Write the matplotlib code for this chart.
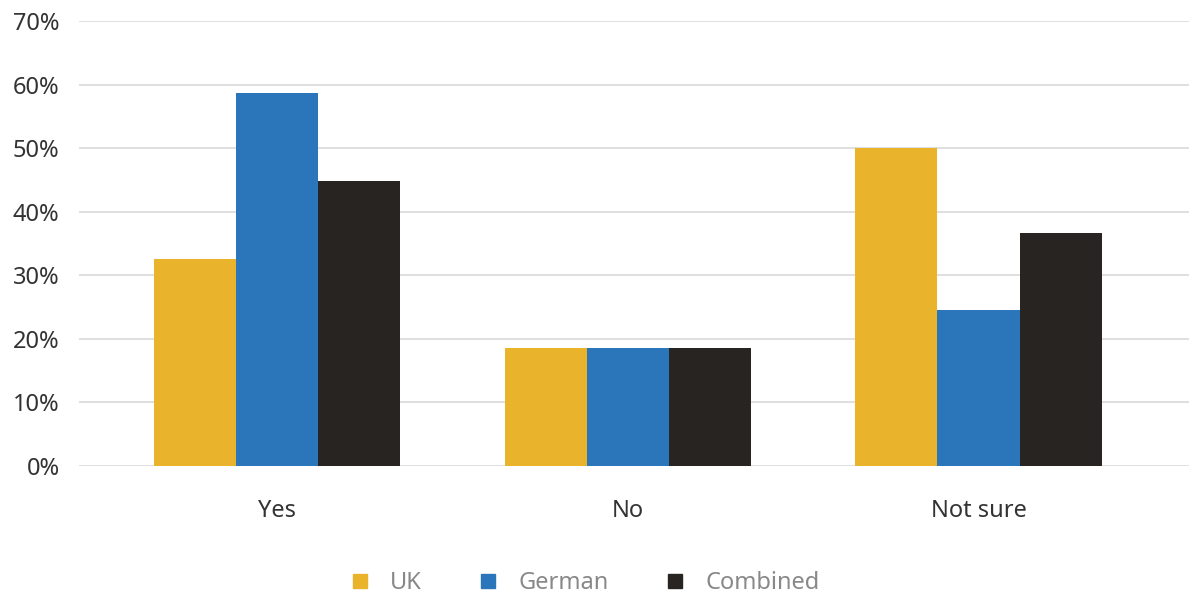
import numpy as np
import matplotlib.pyplot as plt
from matplotlib.lines import Line2D

plt.rcParams['font.family'] = ['Noto Sans', 'DejaVu Sans']

categories = ['Yes', 'No', 'Not sure']
series = ['UK', 'German', 'Combined']
uk = [32.5, 18.6, 50.1]
german = [58.6, 18.6, 24.6]
combined = [44.9, 18.6, 36.7]
colors = ['#E9B42C', '#2B76BA', '#282421']

fig = plt.figure(figsize=(11.89, 5.94), dpi=100)
ax = fig.add_axes([79 / 1189, 128 / 594, 1110 / 1189, 445 / 594])

x = np.arange(len(categories))
w = 0.234
for i, (vals, c) in enumerate(zip([uk, german, combined], colors)):
    ax.bar(x + (i - 1) * w, np.array(vals) / 100, width=w, color=c, zorder=3, label=series[i])

ax.set_xlim(-0.564, 2.60)
ax.set_ylim(0, 0.70)
ax.set_yticks(np.arange(0, 0.71, 0.1))
ax.set_yticklabels([f'{int(round(v * 100))}%' for v in np.arange(0, 0.71, 0.1)])
ax.set_xticks(x)
ax.set_xticklabels(categories)
ax.tick_params(axis='both', length=0, labelsize=17, labelcolor='#333333')
ax.tick_params(axis='y', pad=14)
ax.tick_params(axis='x', pad=24)
ax.grid(axis='y', color='#d9d9d9', linewidth=1.2, zorder=0)
for s in ax.spines.values():
    s.set_visible(False)

handles = [Line2D([], [], marker='s', linestyle='none', markersize=10, color=c) for c in colors]
fig.legend(handles, series, loc='center', bbox_to_anchor=(584 / 1189, 1 - 583 / 594), ncol=3,
           frameon=False, fontsize=17, labelcolor='#888888', handletextpad=0.8,
           columnspacing=2.3, handlelength=1.0)

fig.savefig('out.png', dpi=100)
